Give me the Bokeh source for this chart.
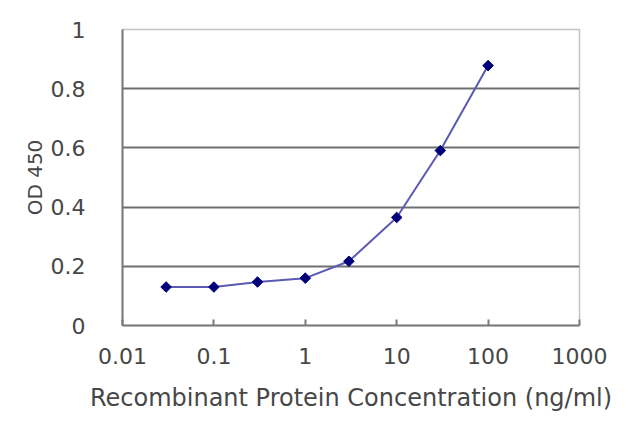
from bokeh.plotting import figure
from bokeh.models import FixedTicker, CustomJSTickFormatter, Range1d
from bokeh.embed import file_html
from bokeh.resources import INLINE

concentration = [0.03, 0.1, 0.3, 1, 3, 10, 30, 100]
od450 = [0.13, 0.13, 0.147, 0.16, 0.217, 0.365, 0.591, 0.878]
x_ticks = [0.01, 0.1, 1, 10, 100, 1000]
y_ticks = [0, 0.2, 0.4, 0.6, 0.8, 1]

FONT = "DejaVu Sans"
TXT = "#474747"

p = figure(width=632, height=419, x_axis_type="log",
           x_range=Range1d(0.01, 1000), y_range=Range1d(0, 1),
           output_backend="svg", toolbar_location=None,
           min_border_left=122, min_border_right=53,
           min_border_top=29, min_border_bottom=94)
p.background_fill_color = "white"
p.border_fill_color = "white"
p.outline_line_color = "#c4c4c4"
p.outline_line_width = 1.5

p.xgrid.visible = False
p.ygrid.ticker = FixedTicker(ticks=[0.2, 0.4, 0.6, 0.8])
p.ygrid.grid_line_color = "#6f6f6f"
p.ygrid.grid_line_width = 2

p.xaxis.ticker = FixedTicker(ticks=x_ticks)
p.xaxis.formatter = CustomJSTickFormatter(code="return tick.toString();")
p.xaxis.minor_tick_line_color = None
p.xaxis.major_tick_in = 6
p.xaxis.major_tick_out = 0
p.xaxis.major_label_standoff = 22
p.xaxis.axis_label = "Recombinant Protein Concentration (ng/ml)"
p.xaxis.axis_label_standoff = 17

p.yaxis.ticker = FixedTicker(ticks=y_ticks)
p.yaxis.formatter = CustomJSTickFormatter(code="return tick.toString();")
p.yaxis.minor_tick_line_color = None
p.yaxis.major_tick_in = 0
p.yaxis.major_tick_out = 0
p.yaxis.major_label_standoff = 37
p.yaxis.axis_label = "OD 450"
p.yaxis.axis_label_standoff = 1

for ax in (p.xaxis, p.yaxis):
    ax.axis_line_color = "#7a7a7a"
    ax.axis_line_width = 2
    ax.major_tick_line_color = "#7a7a7a"
    ax.major_tick_line_width = 2
    ax.major_label_text_font = FONT
    ax.major_label_text_font_size = "22px"
    ax.major_label_text_color = TXT
    ax.axis_label_text_font = FONT
    ax.axis_label_text_font_style = "normal"
    ax.axis_label_text_color = TXT

p.xaxis.axis_label_text_font_size = "24px"
p.yaxis.axis_label_text_font_size = "20px"

p.line(concentration, od450, line_color="#5a5ab4", line_width=2)
p.scatter(concentration, od450, marker="square", size=7.5, angle=0.785398,
          fill_color="#00007a", line_color="#00007a")

open("out.html", "w").write(file_html(p, INLINE))
